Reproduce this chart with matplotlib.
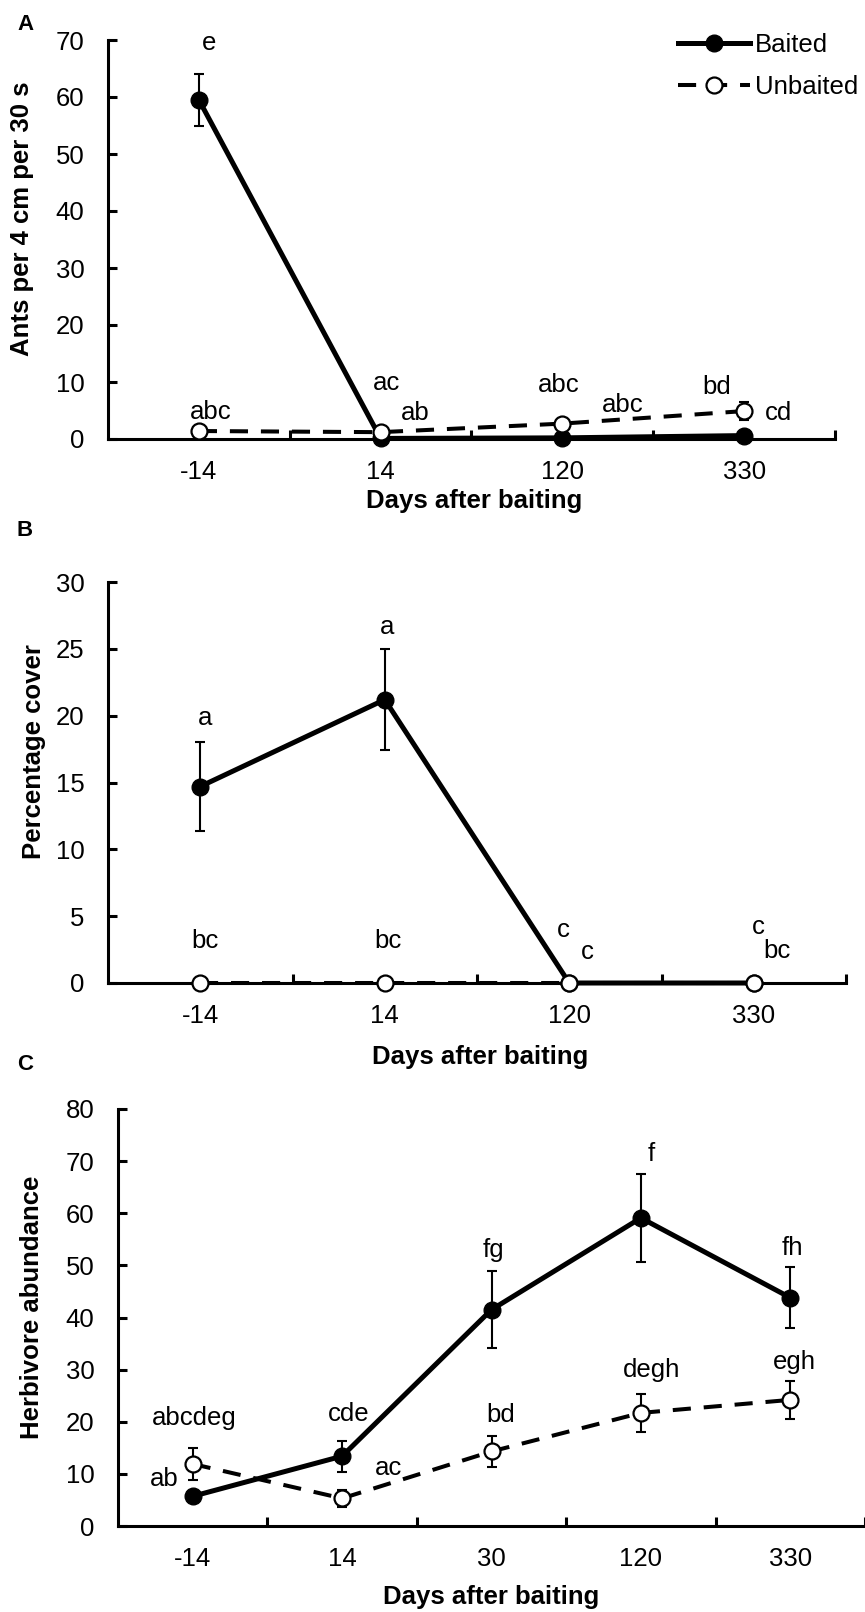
import matplotlib
matplotlib.use("Agg")
import matplotlib.pyplot as plt
import numpy as np

plt.rcParams['font.family'] = ['Liberation Sans', 'DejaVu Sans']

W, H = 865, 1612

# panel A: ants
daysA = ['-14', '14', '120', '330']
antsBaited = [59.5, 0.1, 0.2, 0.6]
antsBaitedErr = [4.6, 0.1, 0.1, 0.2]
antsUnbaited = [1.4, 1.2, 2.7, 4.9]
antsUnbaitedErr = [0.3, 0.3, 0.4, 1.6]
lettersA = ['e', 'abc', 'ac', 'ab', 'abc', 'abc', 'bd', 'cd']

# panel B: percentage cover
daysB = ['-14', '14', '120', '330']
coverBaited = [14.7, 21.2, 0.0, 0.0]
coverBaitedErr = [3.3, 3.8, 0.0, 0.0]
coverUnbaited = [0.0, 0.0, 0.0, 0.0]
coverUnbaitedErr = [0.0, 0.0, 0.0, 0.0]
lettersB = ['a', 'a', 'bc', 'bc', 'c', 'c', 'c', 'bc']

# panel C: herbivores
daysC = ['-14', '14', '30', '120', '330']
herbBaited = [5.7, 13.4, 41.5, 59.1, 43.8]
herbBaitedErr = [0.0, 3.0, 7.4, 8.4, 5.8]
herbUnbaited = [11.9, 5.3, 14.3, 21.7, 24.2]
herbUnbaitedErr = [3.0, 1.6, 3.0, 3.7, 3.7]
lettersC = ['abcdeg', 'ab', 'cde', 'ac', 'fg', 'bd', 'f', 'degh', 'fh', 'egh']

FS = 18.5


def fx(px):
    return px / W


def fy(py):
    return 1 - py / H


def makeAxes(fig, left, right, top, bottom):
    return fig.add_axes([fx(left), fy(bottom), fx(right - left), (bottom - top) / H])


def drawPanel(ax, days, yb, ybe, yu, yue, ymax, ystep):
    x = np.arange(len(days))
    ax.errorbar(x, yb, yerr=ybe, fmt='none', ecolor='k', elinewidth=1.5,
                capsize=3.6, capthick=1.5, zorder=3, clip_on=False)
    ax.errorbar(x, yu, yerr=yue, fmt='none', ecolor='k', elinewidth=1.5,
                capsize=3.6, capthick=1.5, zorder=5, clip_on=False)
    ax.plot(x, yb, '-', color='k', lw=3.6, marker='o', ms=12,
            mfc='k', mec='k', zorder=4, clip_on=False, label='Baited')
    ax.plot(x, yu, color='k', lw=2.9, ls=(0, (4.5, 3.2)), marker='o', ms=11.5,
            mfc='white', mec='k', mew=1.6, zorder=6, clip_on=False, label='Unbaited')
    ax.set_xlim(-0.5, len(days) - 0.5)
    ax.set_ylim(0, ymax)
    ax.set_yticks(np.arange(0, ymax + 1, ystep))
    ax.set_xticks(x)
    ax.set_xticklabels(days)
    ax.set_xticks(np.arange(0.5, len(days), 1.0), minor=True)
    ax.tick_params(axis='x', which='major', length=0, pad=15, labelsize=FS)
    ax.tick_params(axis='x', which='minor', direction='in', length=6.5, width=2.2)
    ax.tick_params(axis='y', direction='in', length=6.5, width=2.2, pad=17, labelsize=FS)
    for s in ['top', 'right']:
        ax.spines[s].set_visible(False)
    for s in ['left', 'bottom']:
        ax.spines[s].set_linewidth(2.2)


def putLetters(ax, letters, xs, ys):
    for t, xx, yy in zip(letters, xs, ys):
        ax.text(xx, yy, t, ha='center', va='center', fontsize=FS, zorder=8)


fig = plt.figure(figsize=(W / 100, H / 100), dpi=100)

# A
axA = makeAxes(fig, 108, 835, 40, 439)
drawPanel(axA, daysA, antsBaited, antsBaitedErr, antsUnbaited, antsUnbaitedErr, 70, 10)
putLetters(axA, lettersA,
           [0.055, 0.066, 1.03, 1.19, 1.98, 2.33, 2.85, 3.19],
           [69.5, 4.7, 9.8, 4.5, 9.5, 6.0, 9.1, 4.5])
fig.text(fx(25), fy(24), 'A', fontsize=16, fontweight='bold', ha='center', va='center')
fig.text(fx(22), fy(219), 'Ants per 4 cm per 30 s', rotation=90, fontsize=FS,
         fontweight='bold', ha='center', va='center')
fig.text(fx(474), fy(501), 'Days after baiting', fontsize=FS, fontweight='bold',
         ha='center', va='center')
axA.legend(loc='upper left', bbox_to_anchor=(fx(678), fy(33)), bbox_transform=fig.transFigure,
           frameon=False, fontsize=FS, handlelength=2.8, handletextpad=0.2,
           labelspacing=0.7, borderpad=0, borderaxespad=0)

# B
axB = makeAxes(fig, 108, 846, 582, 983)
drawPanel(axB, daysB, coverBaited, coverBaitedErr, coverUnbaited, coverUnbaitedErr, 30, 5)
putLetters(axB, lettersB,
           [0.027, 1.01, 0.027, 1.016, 1.97, 2.098, 3.027, 3.125],
           [19.8, 26.6, 3.15, 3.15, 4.0, 2.3, 4.2, 2.4])
fig.text(fx(25), fy(530), 'B', fontsize=16, fontweight='bold', ha='center', va='center')
fig.text(fx(34), fy(752), 'Percentage cover', rotation=90, fontsize=FS,
         fontweight='bold', ha='center', va='center')
fig.text(fx(480), fy(1057), 'Days after baiting', fontsize=FS, fontweight='bold',
         ha='center', va='center')

# C
axC = makeAxes(fig, 118, 865, 1109, 1526)
drawPanel(axC, daysC, herbBaited, herbBaitedErr, herbUnbaited, herbUnbaitedErr, 80, 10)
putLetters(axC, lettersC,
           [0.013, -0.19, 1.047, 1.31, 2.013, 2.06, 3.067, 3.074, 4.013, 4.03],
           [20.7, 9.0, 21.5, 11.1, 53.0, 21.3, 71.4, 29.9, 53.3, 31.5])
fig.text(fx(25), fy(1064), 'C', fontsize=16, fontweight='bold', ha='center', va='center')
fig.text(fx(32), fy(1307), 'Herbivore abundance', rotation=90, fontsize=FS,
         fontweight='bold', ha='center', va='center')
fig.text(fx(491), fy(1597), 'Days after baiting', fontsize=FS, fontweight='bold',
         ha='center', va='center')

fig.savefig('out.png', dpi=100)
